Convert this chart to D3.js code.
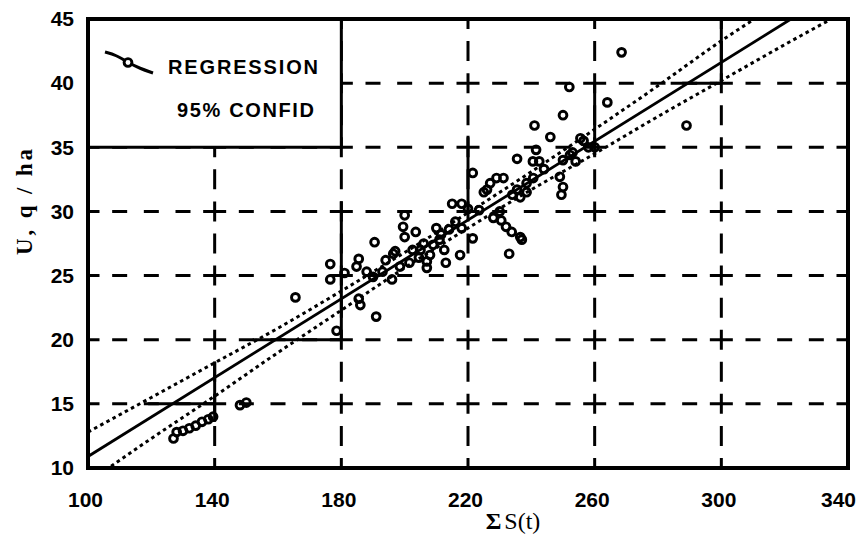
<!DOCTYPE html>
<html>
<head>
<meta charset="utf-8">
<script src="https://cdn.jsdelivr.net/npm/d3@7"></script>
<style>
  body { margin: 0; background: #fff; }
  svg { display: block; }
</style>
</head>
<body>
<div class="chart"></div>
<script>
// Axis ticks
const xTicks = [100, 140, 180, 220, 260, 300, 340];
const yTicks = [10, 15, 20, 25, 30, 35, 40, 45];

// Observations: sum S(t) and yield U (q/ha)
const sumS = [
    127, 128, 130, 132, 134, 136, 138, 139.5, 148, 150,
    165.5, 176.5, 176.5, 178.5, 181, 184.8, 185.5, 185.5, 186, 188,
    190.5, 191, 190, 193, 194, 196.4, 197, 196, 198.5, 199.5,
    200, 200, 201.5, 202.5, 203.5, 204.5, 205, 206, 207, 207,
    208, 209, 210, 211, 211.5, 212.5, 213, 214, 215, 216,
    217.5, 218, 218, 220, 221.5, 221.5, 223.5, 225, 226, 227,
    228, 229, 230, 230.5, 231.2, 232, 233, 233.8, 234, 235.5,
    235.5, 236.5, 236.5, 237, 238.5, 238.5, 240.5, 240.6, 241, 241.5,
    242.5, 244, 246, 249, 249.5, 250, 250, 250, 252, 252.2,
    253, 254, 255.5, 256.5, 258, 260, 264, 268.5, 289
];
const yieldU = [
    12.3, 12.8, 12.9, 13.1, 13.3, 13.6, 13.8, 14.0, 14.9, 15.1,
    23.3, 25.9, 24.7, 20.7, 25.2, 25.7, 26.3, 23.2, 22.7, 25.3,
    27.6, 21.8, 24.9, 25.3, 26.2, 26.7, 26.9, 24.7, 25.7, 28.8,
    29.7, 28.0, 26.0, 27.0, 28.4, 26.4, 27.0, 27.5, 25.6, 26.1,
    26.6, 27.4, 28.7, 27.8, 28.2, 27.0, 26.0, 28.6, 30.6, 29.2,
    26.6, 30.6, 28.7, 30.2, 33.0, 27.9, 30.1, 31.5, 31.7, 32.2,
    29.5, 32.6, 30.0, 29.3, 32.6, 28.8, 26.7, 28.4, 31.3, 31.7,
    34.1, 28.0, 31.1, 27.8, 32.2, 31.5, 33.9, 32.6, 36.7, 34.8,
    33.9, 33.3, 35.8, 32.7, 31.3, 31.9, 37.5, 34.0, 39.7, 34.4,
    34.6, 33.9, 35.7, 35.5, 35.0, 35.0, 38.5, 42.4, 36.7
];

// Regression line (end points) and 95% confidence band
const regX = [100, 322];
const regY = [10.9, 45.0];
const bandX     = [100,  120,  140,  160,  180,  200,  220,  240,  260,  280,  300,  320,  340];
const bandUpper = [12.8, 15.5, 18.2, 20.9, 23.8, 26.8, 29.9, 33.1, 36.4, 39.8, 43.3, 46.5, 49.7];
const bandLower = [8.9,  12.3, 15.6, 19.0, 22.3, 25.6, 28.7, 31.7, 34.5, 37.4, 40.2, 43.0, 45.7];

// Grid pieces drawn solid instead of dashed
const solidV = [
    { x: 140, from: 13.6, to: 18.3 },
    { x: 180, from: 20, to: 30.8 },
    { x: 220, from: 30, to: 35.9 },
    { x: 260, from: 35, to: 40 },
    { x: 300, from: 40, to: 45 }
];
const solidH = [
    { y: 15, from: 119, to: 140 },
    { y: 20, from: 152, to: 180 },
    { y: 40, from: 284, to: 300 }
];

// Legend box corner (data units)
const legendCorner = { x: 180, y: 35 };

const width = 862;
const height = 544;
const margin = { top: 19, right: 14, bottom: 76, left: 88 };

const svg = d3.select(".chart").append("svg")
    .attr("width", width)
    .attr("height", height);

const x = d3.scaleLinear()
    .domain([100, 340])
    .range([margin.left, width - margin.right]);

const y = d3.scaleLinear()
    .domain([10, 45])
    .range([height - margin.bottom, margin.top]);

svg.append("defs").append("clipPath")
    .attr("id", "plot-clip")
    .append("rect")
    .attr("x", x(100))
    .attr("y", y(45))
    .attr("width", x(340) - x(100))
    .attr("height", y(10) - y(45));

// Dashed grid: a long dash at each crossing, shorter dashes between
const cellW = x(140) - x(100);
const hPattern = [23, cellW / 4 - 7.5 - 11.5, 15, cellW / 4 - 15, 15, cellW / 4 - 15, 15, cellW / 4 - 7.5 - 11.5];
const cellH = y(10) - y(15);
const vPattern = [20, cellH / 2 - 20];

const grid = svg.append("g").attr("class", "grid")
    .attr("stroke", "#000")
    .attr("stroke-width", 3)
    .attr("fill", "none");

grid.selectAll(".vline")
    .data(xTicks.slice(1, -1))
    .enter()
    .append("line")
    .attr("class", "vline")
    .attr("x1", d => x(d))
    .attr("x2", d => x(d))
    .attr("y1", y(10))
    .attr("y2", y(45))
    .attr("stroke-dasharray", vPattern.join(","))
    .attr("stroke-dashoffset", 10);

grid.selectAll(".hline")
    .data(yTicks.slice(1, -1))
    .enter()
    .append("line")
    .attr("class", "hline")
    .attr("x1", x(100))
    .attr("x2", x(340))
    .attr("y1", d => y(d))
    .attr("y2", d => y(d))
    .attr("stroke-dasharray", hPattern.join(","))
    .attr("stroke-dashoffset", 11.5);

grid.selectAll(".vsolid")
    .data(solidV)
    .enter()
    .append("line")
    .attr("x1", d => x(d.x))
    .attr("x2", d => x(d.x))
    .attr("y1", d => y(d.from))
    .attr("y2", d => y(d.to));

grid.selectAll(".hsolid")
    .data(solidH)
    .enter()
    .append("line")
    .attr("x1", d => x(d.from))
    .attr("x2", d => x(d.to))
    .attr("y1", d => y(d.y))
    .attr("y2", d => y(d.y));

// Legend box (white, solid edges)
const legend = svg.append("g").attr("class", "legend");
legend.append("rect")
    .attr("x", x(100))
    .attr("y", y(45))
    .attr("width", x(legendCorner.x) - x(100))
    .attr("height", y(legendCorner.y) - y(45))
    .attr("fill", "#fff");
legend.append("path")
    .attr("d", `M${x(100)},${y(legendCorner.y)}H${x(legendCorner.x)}V${y(45)}`)
    .attr("fill", "none")
    .attr("stroke", "#000")
    .attr("stroke-width", 3);

// Regression + confidence lines
const plot = svg.append("g").attr("clip-path", "url(#plot-clip)");

const bandLine = d3.line()
    .x(d => x(d[0]))
    .y(d => y(d[1]))
    .curve(d3.curveMonotoneX);

[bandUpper, bandLower].forEach(band => {
    plot.append("path")
        .datum(bandX.map((v, i) => [v, band[i]]))
        .attr("d", bandLine)
        .attr("fill", "none")
        .attr("stroke", "#000")
        .attr("stroke-width", 3)
        .attr("stroke-dasharray", "3.5,3.5");
});

plot.append("path")
    .datum(regX.map((v, i) => [v, regY[i]]))
    .attr("d", d3.line().x(d => x(d[0])).y(d => y(d[1])))
    .attr("fill", "none")
    .attr("stroke", "#000")
    .attr("stroke-width", 2.8);

// Points
plot.selectAll(".pt")
    .data(sumS.map((v, i) => ({ s: v, u: yieldU[i] })))
    .enter()
    .append("circle")
    .attr("class", "pt")
    .attr("cx", d => x(d.s))
    .attr("cy", d => y(d.u))
    .attr("r", 3.9)
    .attr("fill", "none")
    .attr("stroke", "#000")
    .attr("stroke-width", 2.9);

// Frame
svg.append("rect")
    .attr("x", x(100))
    .attr("y", y(45))
    .attr("width", x(340) - x(100))
    .attr("height", y(10) - y(45))
    .attr("fill", "none")
    .attr("stroke", "#000")
    .attr("stroke-width", 4);

// Axes (labels only)
const xAxis = svg.append("g")
    .attr("class", "x-axis")
    .attr("transform", `translate(0,${y(10)})`)
    .call(d3.axisBottom(x).tickValues(xTicks).tickSize(0).tickPadding(24));
const yAxis = svg.append("g")
    .attr("class", "y-axis")
    .attr("transform", `translate(${x(100)},0)`)
    .call(d3.axisLeft(y).tickValues(yTicks).tickSize(0).tickPadding(14));

svg.selectAll(".x-axis .domain, .y-axis .domain").remove();
svg.selectAll(".x-axis text, .y-axis text")
    .style("font-family", "'Liberation Sans', Arial, sans-serif")
    .style("font-weight", "bold")
    .style("font-size", "21px")
    .attr("fill", "#000");
xAxis.selectAll("text").attr("dx", d => d === 340 ? -10 : -3);

// Axis titles
const xTitle = svg.append("text")
    .attr("x", 513)
    .attr("y", 529)
    .attr("text-anchor", "middle")
    .style("font-family", "'Liberation Serif', 'Times New Roman', serif")
    .style("font-size", "24px");
xTitle.append("tspan").style("font-weight", "bold").text("\u03A3");
xTitle.append("tspan").attr("dx", 3).text("S(t)");

svg.append("text")
    .attr("transform", "translate(32,202) rotate(-90)")
    .attr("text-anchor", "middle")
    .attr("textLength", 106)
    .attr("lengthAdjust", "spacing")
    .style("font-family", "'Liberation Serif', 'Times New Roman', serif")
    .style("font-weight", "bold")
    .style("font-size", "23px")
    .text("U, q / ha");

// Legend entries
legend.append("path")
    .attr("d", d3.line().curve(d3.curveBasis)([[105, 52], [116, 55], [128, 62.5], [140, 68.5], [153, 73]]))
    .attr("fill", "none")
    .attr("stroke", "#000")
    .attr("stroke-width", 3);
legend.append("circle")
    .attr("cx", 128)
    .attr("cy", 62.5)
    .attr("r", 3.9)
    .attr("fill", "#fff")
    .attr("stroke", "#000")
    .attr("stroke-width", 2.9);

legend.append("text")
    .attr("x", 168)
    .attr("y", 74)
    .attr("textLength", 150)
    .attr("lengthAdjust", "spacing")
    .style("font-family", "'Liberation Sans', Arial, sans-serif")
    .style("font-weight", "bold")
    .style("font-size", "20px")
    .text("REGRESSION");

legend.append("text")
    .attr("x", 177)
    .attr("y", 116.5)
    .attr("textLength", 137)
    .attr("lengthAdjust", "spacing")
    .style("font-family", "'Liberation Sans', Arial, sans-serif")
    .style("font-weight", "bold")
    .style("font-size", "20px")
    .text("95% CONFID");
</script>
</body>
</html>
